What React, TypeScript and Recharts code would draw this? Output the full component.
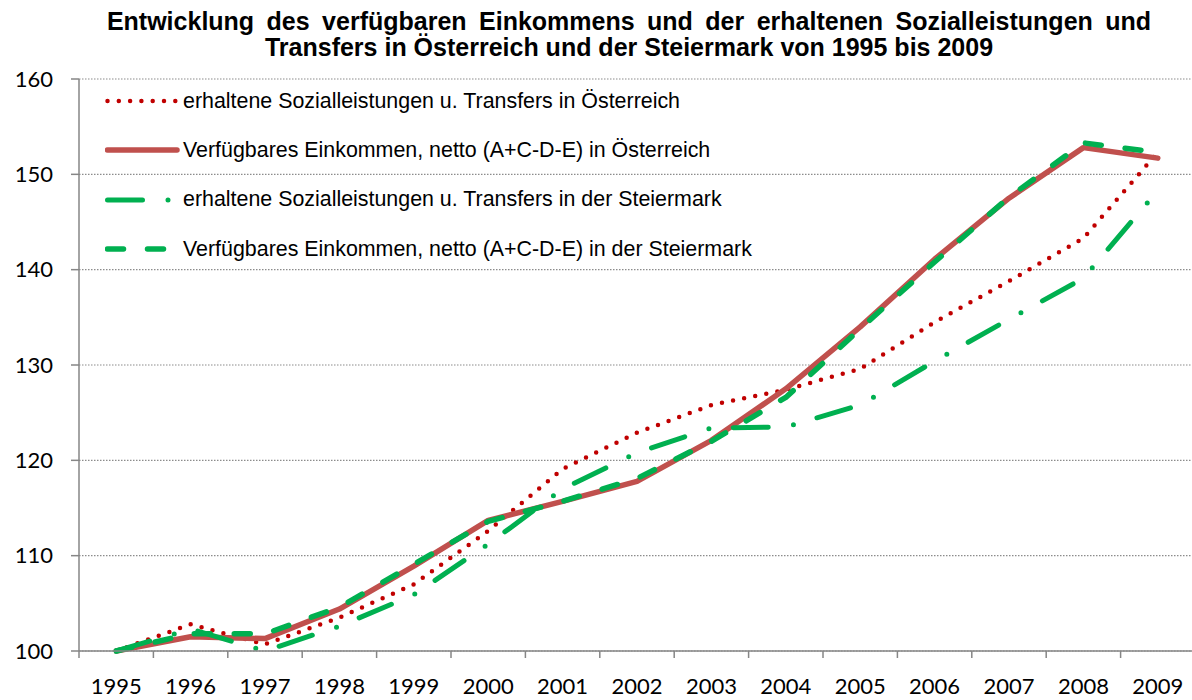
import { LineChart, Line, XAxis, YAxis, CartesianGrid, Legend } from "recharts";

// Index 1995 = 100
const years = [1995, 1996, 1997, 1998, 1999, 2000, 2001, 2002, 2003, 2004, 2005, 2006, 2007, 2008, 2009];
const sozialAT = [100, 102.8, 100.7, 103.5, 107.0, 112.6, 119.1, 122.9, 125.8, 127.4, 129.6, 134.5, 138.8, 143.3, 152.3];
const einkommenAT = [100, 101.5, 101.3, 104.4, 108.9, 113.7, 115.7, 117.8, 122.1, 127.5, 134.0, 141.1, 147.5, 152.8, 151.7];
const sozialST = [100, 102.3, 100.0, 102.6, 105.9, 111.2, 117.0, 120.8, 123.4, 123.5, 125.8, 130.4, 134.8, 139.1, 148.3];
const einkommenST = [100, 101.8, 101.8, 104.6, 109.1, 113.6, 115.7, 118.1, 122.0, 126.6, 133.8, 140.8, 147.6, 153.3, 152.3];
const yTicks = [100, 110, 120, 130, 140, 150, 160];

const data = years.map((year, i) => ({
  year,
  sozialAT: sozialAT[i],
  einkommenAT: einkommenAT[i],
  sozialST: sozialST[i],
  einkommenST: einkommenST[i],
}));

const series = [
  {
    key: "sozialAT",
    name: "erhaltene Sozialleistungen u. Transfers in Österreich",
    color: "#C00000",
    width: 4.5,
    dash: "0 11.3",
  },
  {
    key: "einkommenAT",
    name: "Verfügbares Einkommen, netto (A+C-D-E) in Österreich",
    color: "#C0504D",
    width: 5.5,
    dash: undefined,
  },
  {
    key: "sozialST",
    name: "erhaltene Sozialleistungen u. Transfers in der Steiermark",
    color: "#00B050",
    width: 5,
    dash: "35 25.5 0 24.5",
  },
  {
    key: "einkommenST",
    name: "Verfügbares Einkommen, netto (A+C-D-E) in der Steiermark",
    color: "#00B050",
    width: 5.5,
    dash: "16 24",
  },
];

const CHART_W = 1200;
const CHART_H = 700;
const AXIS_W = 79;
const RIGHT = 5;
const STEP = (CHART_W - AXIS_W - RIGHT) / years.length;
const AXIS_COLOR = "#868686";
const TICK_FONT = "Lato, sans-serif";
const TEXT_FONT = "'Liberation Sans', Arial, sans-serif";

function YearTick(props: any) {
  const { x, y, payload } = props;
  const bx = x - STEP / 2;
  return (
    <g>
      <line x1={bx} x2={bx} y1={y - 7} y2={y} stroke={AXIS_COLOR} strokeWidth={1.5} />
      <text x={x} y={y + 36} textAnchor="middle" fill="#000" fontSize={22} fontFamily={TICK_FONT}>
        {payload.value}
      </text>
    </g>
  );
}

function LegendBox() {
  return (
    <div style={{ fontFamily: TEXT_FONT }}>
      {series.map((s) => (
        <div key={s.key} style={{ display: "flex", alignItems: "center", height: 49.3 }}>
          <svg width={78} height={12} style={{ display: "block" }}>
            <line
              x1={2.5}
              x2={72}
              y1={6}
              y2={6}
              stroke={s.color}
              strokeWidth={s.width}
              strokeDasharray={s.dash}
              strokeLinecap="round"
            />
          </svg>
          <span style={{ fontSize: 21.4, color: "#000", whiteSpace: "nowrap" }}>{s.name}</span>
        </div>
      ))}
    </div>
  );
}

export default function App() {
  return (
    <div
      style={{
        position: "absolute",
        left: 0,
        top: 0,
        width: 1192,
        height: 700,
        overflow: "hidden",
        background: "#fff",
      }}
    >
      <div
        style={{
          position: "absolute",
          left: 0,
          top: 7.5,
          width: 1258,
          textAlign: "center",
          fontFamily: TEXT_FONT,
          fontWeight: "bold",
          fontSize: 25,
          lineHeight: "26px",
          color: "#000",
          zIndex: 1,
        }}
      >
        <div style={{ wordSpacing: 5.5 }}>
          Entwicklung des verfügbaren Einkommens und der erhaltenen Sozialleistungen und
        </div>
        <div>Transfers in Österreich und der Steiermark von 1995 bis 2009</div>
      </div>
      <LineChart
        width={CHART_W}
        height={CHART_H}
        data={data}
        margin={{ top: 79, right: RIGHT, bottom: 0, left: 0 }}
      >
        <CartesianGrid
          vertical={false}
          stroke="#8c8c8c"
          strokeWidth={1.2}
          strokeDasharray="1.5 1.5"
        />
        <XAxis
          dataKey="year"
          type="number"
          domain={[years[0] - 0.5, years[years.length - 1] + 0.5]}
          ticks={years}
          interval={0}
          allowDataOverflow
          height={49}
          tickLine={false}
          tickSize={7}
          tickMargin={0}
          axisLine={{ stroke: AXIS_COLOR, strokeWidth: 1.5 }}
          tick={<YearTick />}
        />
        <YAxis
          domain={[100, 160]}
          ticks={yTicks}
          interval={0}
          width={AXIS_W}
          tickSize={8}
          tickMargin={18}
          axisLine={{ stroke: AXIS_COLOR, strokeWidth: 1.5 }}
          tickLine={{ stroke: AXIS_COLOR, strokeWidth: 1.5 }}
          tick={{ fill: "#000", fontSize: 22, fontFamily: TICK_FONT }}
        />
        <Legend
          layout="vertical"
          align="center"
          verticalAlign="middle"
          content={<LegendBox />}
          wrapperStyle={{ top: 76.5, left: 105, width: "auto", height: "auto" }}
        />
        {series.map((s) => (
          <Line
            key={s.key}
            type="linear"
            dataKey={s.key}
            name={s.name}
            stroke={s.color}
            strokeWidth={s.width}
            strokeDasharray={s.dash}
            strokeLinecap="round"
            strokeLinejoin="round"
            dot={false}
            activeDot={false}
            isAnimationActive={false}
          />
        ))}
      </LineChart>
    </div>
  );
}
